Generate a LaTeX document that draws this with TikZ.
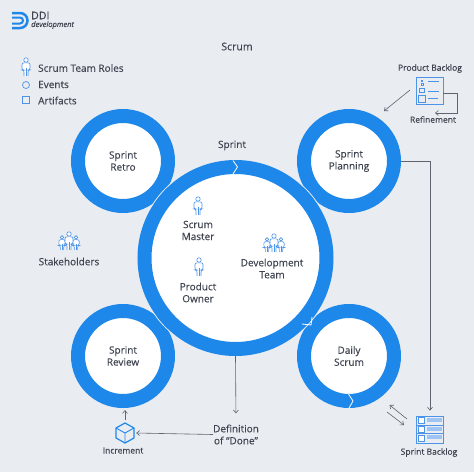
\documentclass[tikz,border=0pt]{standalone}
\usepackage{fontspec}
\setmainfont[FakeBold=0.25]{Open Sans}
\usetikzlibrary{arrows.meta}
\definecolor{paper}{HTML}{E9ECF1}
\definecolor{ringblue}{HTML}{1E88EA}
\definecolor{iconblue}{HTML}{4D94E8}
\definecolor{inkgray}{HTML}{3F4450}
\definecolor{linegray}{HTML}{5F646E}
\tikzset{
  persona/.pic={
    \draw[iconblue, line width=0.6pt, fill=white] (0,-7) circle (2.2);
    \draw[iconblue, line width=0.6pt, fill=white, rounded corners=2pt] (-2,9) -- (-2,3) -- (-4,3) -- (-4,-4.2) -- (4,-4.2) -- (4,3) -- (2,3) -- (2,9);
    \draw[iconblue, line width=0.6pt] (0,1) -- (0,9);
  },
}
\begin{document}
\begin{tikzpicture}[
x=1pt, y=-1pt,
ring/.style={
        draw=ringblue,
        line width=14pt,
        fill=white,
        circle,
        minimum size=90pt,
        align=center,
        text=inkgray,
        font=\fontsize{10}{12}\selectfont,
    },
bigring/.style={
        ring,
        minimum size=182pt,
    },
label/.style={
        align=center,
        text=inkgray,
        inner sep=0pt,
        yshift=0.5pt,
        font=\fontsize{10}{12}\selectfont,
    },
small/.style={
        label,
        font=\fontsize{8.5}{10}\selectfont,
    },
flow/.style={
        draw=linegray,
        line width=0.6pt,
        -{Straight Barb[length=3pt,width=5pt]},
    },
chevron/.style={
        draw=white,
        line width=0.8pt,
    },
sheet/.style={
        draw=iconblue,
        line width=0.7pt,
        fill=paper,
        minimum size=27pt,
        inner sep=0pt,
    },
]

\fill[paper] (0,0) rectangle (474,472);

% logo
\draw[ringblue, line width=2.5pt] (12,13) -- (20,13) arc (-90:90:7.5) -- (12,28);
\draw[ringblue, line width=2pt] (12,17.5) -- (20,17.5) arc (-90:90:3) -- (12,23.5);
\node[label, anchor=west, font=\fontsize{10.5}{12}\selectfont] (logoname) at (31,16) {DDI};
\node[label, anchor=west, font=\fontsize{7.5}{9}\itshape] (logosub) at (31,25.5) {development};

\node[label, font=\fontsize{10.5}{12}\selectfont] (title) at (237,47) {Scrum};

% legend
\pic at (26,67) {persona};
\node[label, anchor=west] (rolestext) at (38,68.5) {Scrum Team Roles};
\node[draw=iconblue, line width=0.7pt, circle, minimum size=7pt, inner sep=0pt] (eventsicon) at (26,85) {};
\node[label, anchor=west] (eventstext) at (38,85) {Events};
\node[draw=iconblue, line width=0.7pt, minimum size=7pt, inner sep=0pt] (artifactsicon) at (26,100) {};
\node[label, anchor=west] (artifactstext) at (38,101) {Artifacts};

% rings
\node[ring] (retro) at (123,161) {Sprint\\ Retro};
\node[ring] (planning) at (349,161) {Sprint\\ Planning};
\node[ring] (review) at (123,356) {Sprint\\ Review};
\node[ring] (daily) at (349,356) {Daily\\ Scrum};
\draw[paper, line width=1pt] (235.5,258) circle (98.5);
\node[bigring] (sprint) at (235.5,258) {};

% chevrons on the rings
\draw[chevron] (233,160.5) -- (237.5,167) -- (233,174);
\draw[chevron] (302,324) -- (311,325) -- (312,317);
\draw[chevron] (348.5,394) -- (353,401) -- (349,408);

\node[label] (sprinttext) at (232,146) {Sprint};

% people
\pic at (198,206) {persona};
\node[label] (master) at (198,231) {Scrum\\ Master};
\pic at (199,267) {persona};
\node[label] (owner) at (198,293) {Product\\ Owner};
\pic[scale=0.8] at (267,245) {persona};
\pic[scale=0.8] at (281,245) {persona};
\pic at (274,243) {persona};
\node[label] (devteam) at (272,269) {Development\\ Team};
\pic[scale=0.8] at (62,243) {persona};
\pic[scale=0.8] at (76,243) {persona};
\pic at (69,241) {persona};
\node[label] (stakeholders) at (69,262) {Stakeholders};

% product backlog
\node[small] (pbtext) at (430,69) {Product Backlog};
\node[sheet] (pbicon) at (429.5,90.5) {};
\foreach \y/\w in {80.5/1.2, 84.5/2.2, 90.5/4.5, 98.5/7} {
  \draw[iconblue, line width=0.6pt] (422-\w/2,\y-\w/2) rectangle (422+\w/2,\y+\w/2);
}
\foreach \y/\l in {81/439, 91/439, 98.5/438} {
  \draw[iconblue, line width=0.7pt] (428,\y) -- (\l,\y);
}
\node[small] (reftext) at (433,120) {Refinement};
\coordinate (pbout) at (410,90);
\coordinate (planningin) at (384,111);
\coordinate (refa) at (457,93.5);
\coordinate (refb) at (457,113);
\coordinate (refc) at (435,113);
\draw[flow] (pbout) -- (planningin);
\draw[flow] (pbicon.east |- refa) -- (refa) -- (refb) -- (refc);

% sprint backlog
\node[sheet] (sbicon) at (430,429.5) {};
\foreach \y in {420.5,429.5,438} {
  \draw[iconblue, line width=0.7pt] (417,\y-4.5) -- (443,\y-4.5);
  \draw[iconblue, line width=0.6pt, fill=white] (418.5,\y-3) rectangle (424.5,\y+3);
  \fill[iconblue!55] (427,\y-3) rectangle (442,\y+1);
}
\node[small] (sbtext) at (429,453) {Sprint Backlog};
\draw[flow, shorten >=5pt] (planning.east) -| (sbicon.north);
\coordinate (dsa) at (407,419);
\coordinate (dsb) at (389.5,405);
\coordinate (dsc) at (387,412);
\coordinate (dsd) at (404,425);
\draw[flow] (dsa) -- (dsb);
\draw[flow] (dsc) -- (dsd);

% done and increment
\node[label] (done) at (236,435) {Definition\\ of ``Done''};
\draw[flow, shorten >=11pt] (sprint.south) -- (done.north);
\node[minimum size=22pt, inner sep=0pt] (cube) at (125,433) {};
\draw[ringblue, line width=1.2pt, line join=round] (125,423) -- (134,428) -- (134,438) -- (125,443) -- (116,438) -- (116,428) -- cycle;
\draw[ringblue, line width=0.9pt] (116,428) -- (125,433) -- (134,428) (125,433) -- (125,443);
\node[small] (increment) at (123,451) {Increment};
\draw[flow] (done.west) -- (cube.east);
\draw[flow, shorten <=2pt, shorten >=2pt] (cube.north) -- (cube.north |- review.south);
\end{tikzpicture}
\end{document}
